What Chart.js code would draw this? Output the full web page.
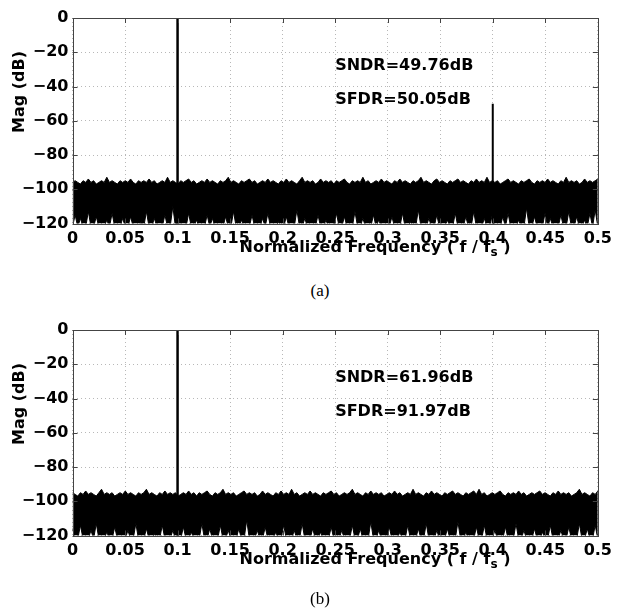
<!DOCTYPE html>
<html>
<head>
<meta charset="utf-8">
<script src="https://cdn.jsdelivr.net/npm/chart.js@4/dist/chart.umd.min.js"></script>
<style>
  html, body { margin: 0; padding: 0; background: #fff; }
  body { width: 618px; height: 614px; position: relative; overflow: hidden; }
  .plot { position: absolute; left: 0; width: 618px; height: 280px; }
  .cap { position: absolute; width: 40px; text-align: center; font-family: "Liberation Serif", serif; font-size: 17px; color: #000; }
</style>
</head>
<body>
<div class="plot" style="top:0"><canvas id="fft-a"></canvas></div>
<div class="cap" style="left:300px; top:281px">(a)</div>
<div class="plot" style="top:312px"><canvas id="fft-b"></canvas></div>
<div class="cap" style="left:300px; top:589px">(b)</div>
<script>
  'use strict';

  // axis ticks
  const xTickLabels = ['0', '0.05', '0.1', '0.15', '0.2', '0.25', '0.3', '0.35', '0.4', '0.45', '0.5'];
  const yTickLabels = ['\u2212120', '\u2212100', '\u221280', '\u221260', '\u221240', '\u221220', '0'];

  // (a) tones and noise floor (upper edge / lower edge of the dense FFT band, dB)
  const toneFreqA = [0.1, 0.4];
  const toneMagA = [0, -50.05];
  const noiseTopA = [
    -96, -95, -96, -97, -95, -96, -94, -96, -95, -97, -96, -95, -96, -93, -96, -95, -96, -97, -95, -96,
    -95, -96, -94, -96, -97, -95, -96, -95, -96, -94, -96, -95, -97, -96, -95, -96, -93, -96, -95, -96,
    -97, -95, -96, -95, -94, -96, -95, -97, -96, -95, -96, -94, -96, -95, -96, -97, -95, -96, -95, -93,
    -96, -95, -96, -97, -95, -96, -95, -94, -96, -95, -97, -96, -95, -96, -94, -96, -95, -96, -97, -95,
    -96, -94, -96, -95, -96, -97, -95, -93, -96, -95, -96, -95, -97, -96, -94, -96, -95, -96, -95, -97,
    -95, -96, -95, -94, -96, -97, -95, -96, -95, -96, -93, -96, -95, -97, -96, -95, -96, -94, -96, -95,
    -96, -97, -95, -96, -94, -96, -95, -96, -97, -95, -96, -95, -93, -96, -95, -96, -97, -95, -94, -96,
    -95, -96, -97, -95, -96, -95, -94, -96, -95, -96, -97, -95, -96, -94, -96, -95, -96, -93, -96, -95,
    -96, -95, -97, -96, -95, -94, -96, -95, -96, -97, -95, -96, -95, -94, -96, -97, -95, -96, -95, -96,
    -94, -96, -95, -96, -97, -95, -96, -93, -96, -95, -96, -95, -97, -96, -94, -96, -95, -96, -95, -94
  ];
  const noiseBotA = [
    -122, -115, -122, -117, -122, -122, -113, -122, -122, -116, -122, -122, -122, -118, -122, -114, -122, -122, -122, -117,
    -122, -122, -116, -122, -122, -122, -119, -122, -113, -122, -122, -117, -122, -122, -122, -115, -122, -122, -110, -122,
    -116, -122, -122, -122, -114, -122, -122, -118, -122, -122, -122, -115, -122, -117, -122, -122, -122, -122, -116, -122,
    -122, -113, -122, -122, -118, -122, -122, -122, -115, -122, -122, -122, -117, -122, -114, -122, -122, -122, -119, -122,
    -122, -116, -122, -122, -122, -112, -122, -122, -117, -122, -122, -122, -122, -115, -122, -122, -118, -122, -122, -122,
    -114, -122, -122, -116, -122, -122, -122, -113, -122, -122, -117, -122, -122, -122, -115, -122, -118, -122, -122, -122,
    -122, -116, -122, -122, -122, -114, -122, -122, -119, -122, -122, -112, -122, -122, -122, -117, -122, -122, -115, -122,
    -122, -122, -118, -122, -122, -114, -122, -122, -122, -116, -122, -122, -113, -122, -122, -122, -117, -122, -122, -115,
    -122, -122, -122, -116, -122, -114, -122, -122, -122, -118, -122, -122, -111, -122, -122, -116, -122, -122, -122, -114,
    -122, -117, -122, -122, -122, -115, -122, -122, -113, -122, -122, -116, -122, -122, -118, -122, -114, -122, -112, -122
  ];

  // (b)
  const toneFreqB = [0.1];
  const toneMagB = [0];
  const noiseTopB = [
    -95, -96, -97, -95, -96, -94, -96, -95, -96, -97, -95, -93, -96, -95, -96, -95, -97, -96, -95, -96,
    -94, -96, -95, -96, -97, -95, -96, -95, -93, -96, -95, -96, -97, -95, -96, -94, -96, -95, -96, -95,
    -97, -96, -95, -96, -94, -96, -95, -97, -95, -96, -95, -94, -96, -97, -95, -96, -95, -93, -96, -95,
    -96, -95, -97, -96, -95, -94, -96, -95, -96, -95, -97, -96, -94, -96, -95, -96, -97, -95, -96, -94,
    -96, -95, -96, -93, -96, -95, -97, -96, -95, -96, -94, -96, -95, -96, -97, -95, -96, -95, -94, -96,
    -95, -97, -96, -95, -96, -95, -93, -96, -95, -96, -97, -95, -96, -94, -96, -95, -96, -95, -97, -96,
    -95, -96, -94, -96, -95, -97, -96, -95, -96, -93, -96, -95, -96, -97, -95, -96, -94, -96, -95, -96,
    -97, -95, -96, -95, -94, -96, -95, -96, -97, -95, -96, -95, -94, -96, -93, -96, -95, -97, -96, -95,
    -96, -95, -94, -96, -97, -95, -96, -95, -96, -94, -96, -95, -97, -96, -95, -96, -95, -94, -96, -95,
    -96, -97, -95, -96, -94, -96, -95, -96, -95, -97, -96, -95, -93, -96, -95, -96, -97, -95, -96, -94
  ];
  const noiseBotB = [
    -116, -122, -122, -114, -122, -122, -122, -117, -122, -113, -122, -122, -122, -118, -122, -122, -115, -122, -122, -122,
    -122, -117, -122, -122, -113, -122, -122, -122, -116, -122, -122, -119, -122, -122, -114, -122, -122, -122, -117, -122,
    -122, -122, -115, -122, -122, -118, -122, -122, -122, -113, -122, -122, -116, -122, -122, -122, -114, -122, -122, -117,
    -122, -122, -122, -116, -122, -122, -111, -122, -122, -122, -117, -122, -122, -115, -122, -122, -122, -118, -122, -122,
    -114, -122, -122, -122, -117, -122, -122, -113, -122, -122, -122, -116, -122, -122, -118, -122, -122, -122, -115, -122,
    -122, -122, -117, -122, -122, -122, -114, -122, -122, -116, -122, -122, -122, -112, -122, -122, -117, -122, -122, -122,
    -115, -122, -122, -122, -118, -122, -122, -114, -122, -122, -122, -116, -122, -122, -113, -122, -122, -122, -117, -122,
    -122, -122, -116, -122, -122, -122, -112, -122, -122, -118, -122, -122, -122, -115, -122, -122, -114, -122, -122, -122,
    -117, -122, -122, -122, -115, -122, -122, -122, -113, -122, -122, -117, -122, -122, -122, -116, -122, -122, -118, -122,
    -122, -114, -122, -122, -122, -117, -122, -122, -115, -122, -122, -122, -113, -122, -122, -116, -122, -122, -114, -122
  ];

  const textA = ['SNDR=49.76dB', 'SFDR=50.05dB'];
  const textB = ['SNDR=61.96dB', 'SFDR=91.97dB'];

  const FONT = '"DejaVu Sans", sans-serif';
  const INK = '#000';
  const FRAME = '#444';

  // fft bins are evenly spaced from 0 to fs/2
  function toBins(values) {
    const step = 0.5 / (values.length - 1);
    return values.map((y, i) => ({ x: i * step, y }));
  }

  const framePlugin = {
    id: 'frame',
    afterDraw(chart, args, opts) {
      const { ctx, chartArea: a, scales: { x, y } } = chart;
      ctx.save();
      ctx.strokeStyle = FRAME;
      ctx.lineWidth = 1;
      ctx.beginPath();
      x.ticks.forEach((t) => {
        const px = Math.round(x.getPixelForValue(t.value)) + 0.5;
        ctx.moveTo(px, a.bottom); ctx.lineTo(px, a.bottom - 5);
        ctx.moveTo(px, a.top); ctx.lineTo(px, a.top + 5);
      });
      y.ticks.forEach((t) => {
        const py = Math.round(y.getPixelForValue(t.value)) + 0.5;
        ctx.moveTo(a.left, py); ctx.lineTo(a.left + 5, py);
        ctx.moveTo(a.right, py); ctx.lineTo(a.right - 5, py);
      });
      ctx.stroke();
      ctx.strokeRect(Math.round(a.left) + 0.5, Math.round(a.top) + 0.5, Math.round(a.right - a.left), Math.round(a.bottom - a.top));

      ctx.fillStyle = INK;
      ctx.font = 'bold 16px ' + FONT;
      ctx.textBaseline = 'middle';
      ctx.textAlign = 'left';
      ctx.fillText(opts.lines[0], x.getPixelForValue(0.25), y.getPixelForValue(-28));
      ctx.fillText(opts.lines[1], x.getPixelForValue(0.25), y.getPixelForValue(-47.5));

      // y title
      ctx.save();
      ctx.translate(20, a.top + 74);
      ctx.rotate(-Math.PI / 2);
      ctx.textAlign = 'center';
      ctx.fillText('Mag (dB)', 0, 0);
      ctx.restore();

      // x title with subscript s
      ctx.textBaseline = 'alphabetic';
      const main = 'Normalized Frequency ( f / f';
      const tail = ' )';
      ctx.font = 'bold 16px ' + FONT;
      const w1 = ctx.measureText(main).width;
      const w3 = ctx.measureText(tail).width;
      ctx.font = 'bold 12px ' + FONT;
      const w2 = ctx.measureText('s').width;
      const tx = 375 - (w1 + w2 + w3) / 2;
      const ty = a.bottom + 28;
      ctx.font = 'bold 16px ' + FONT;
      ctx.fillText(main, tx, ty);
      ctx.font = 'bold 12px ' + FONT;
      ctx.fillText('s', tx + w1, ty + 4);
      ctx.font = 'bold 16px ' + FONT;
      ctx.fillText(tail, tx + w1 + w2, ty);
      ctx.restore();
    }
  };

  function makeChart(id, top, bottom, toneFreq, toneMag, lines) {
    const datasets = [
      { data: toBins(top), borderColor: INK, backgroundColor: INK, borderWidth: 1, fill: '+1', pointRadius: 0 },
      { data: toBins(bottom), borderColor: INK, borderWidth: 1, fill: false, pointRadius: 0 }
    ];
    toneFreq.forEach((f, i) => {
      datasets.push({
        data: [{ x: f, y: -122 }, { x: f, y: toneMag[i] }],
        borderColor: INK, borderWidth: i === 0 ? 2.5 : 2, fill: false, pointRadius: 0
      });
    });

    return new Chart(document.getElementById(id), {
      type: 'line',
      data: { datasets },
      plugins: [framePlugin],
      options: {
        responsive: true,
        maintainAspectRatio: false,
        animation: false,
        events: [],
        layout: { padding: { top: 18, right: 17, left: 0, bottom: 0 } },
        plugins: { legend: { display: false }, tooltip: { enabled: false }, frame: { lines } },
        scales: {
          x: {
            type: 'linear', min: 0, max: 0.5,
            afterFit: (s) => { s.height = 56.5; },
            grid: { color: '#b8b8b8', lineWidth: 1, drawTicks: false },
            border: { display: false, dash: [1, 3] },
            ticks: {
              stepSize: 0.05, padding: 6, color: INK, maxRotation: 0, autoSkip: false,
              font: { family: FONT, size: 16, weight: 'bold' },
              callback: (v, i) => xTickLabels[i]
            }
          },
          y: {
            min: -120, max: 0,
            afterFit: (s) => { s.width = 72.5; },
            grid: { color: '#b8b8b8', lineWidth: 1, drawTicks: false },
            border: { display: false, dash: [1, 3] },
            ticks: {
              stepSize: 20, padding: 4, color: INK,
              font: { family: FONT, size: 16, weight: 'bold' },
              callback: (v, i) => yTickLabels[i]
            }
          }
        }
      }
    });
  }

  makeChart('fft-a', noiseTopA, noiseBotA, toneFreqA, toneMagA, textA);
  makeChart('fft-b', noiseTopB, noiseBotB, toneFreqB, toneMagB, textB);
</script>
</body>
</html>
